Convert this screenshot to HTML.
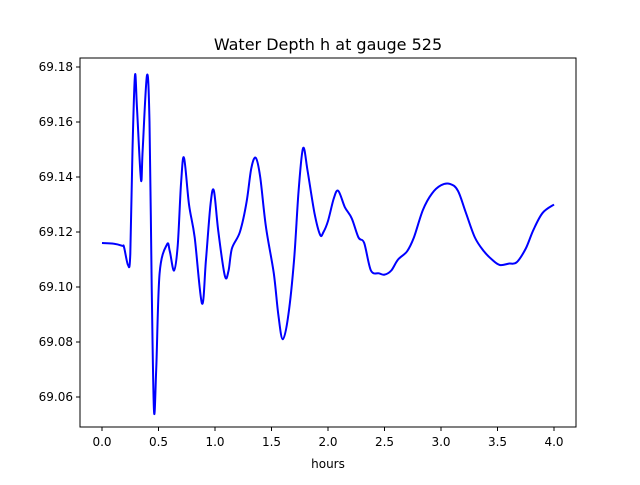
<!DOCTYPE html>
<html><head><meta charset="utf-8"><style>
body{margin:0;background:#fff}
svg text{font-family:"DejaVu Sans","Liberation Sans",sans-serif;fill:#000}
</style></head><body>
<svg id="c" width="640" height="480" xmlns="http://www.w3.org/2000/svg">
<rect x="0" y="0" width="640" height="480" fill="#fff"/>
<text x="328" y="50" font-size="16" text-anchor="middle">Water Depth h at gauge 525</text>
<g id="xt"></g>
<g id="yt"></g>
<path id="line" fill="none" stroke="#0000ff" stroke-width="2" stroke-linejoin="round"/>
<rect x="80" y="58" width="496" height="369" fill="none" stroke="#000" stroke-width="1"/>
<text x="328" y="468" font-size="12" text-anchor="middle">hours</text>
</svg>
<script>
const hours=[0,0.1,0.18,0.195,0.23,0.25,0.27,0.292,0.31,0.345,0.36,0.398,0.42,0.44,0.46,0.48,0.51,0.575,0.6,0.637,0.67,0.7,0.726,0.77,0.82,0.885,0.92,0.96,0.99,1.03,1.088,1.12,1.15,1.22,1.28,1.32,1.36,1.40,1.45,1.52,1.56,1.6,1.65,1.7,1.74,1.78,1.82,1.88,1.93,1.96,2.0,2.05,2.09,2.15,2.21,2.27,2.32,2.38,2.45,2.5,2.56,2.62,2.7,2.76,2.84,2.92,3.0,3.08,3.15,3.22,3.3,3.38,3.45,3.52,3.6,3.67,3.75,3.82,3.9,4.0];
const depth=[69.116,69.1158,69.115,69.1145,69.108,69.112,69.150,69.177,69.165,69.139,69.150,69.177,69.160,69.100,69.055,69.070,69.105,69.1155,69.113,69.106,69.115,69.138,69.147,69.130,69.118,69.094,69.110,69.130,69.135,69.120,69.104,69.106,69.114,69.120,69.131,69.143,69.147,69.140,69.122,69.105,69.090,69.081,69.090,69.110,69.135,69.1505,69.142,69.127,69.119,69.120,69.124,69.132,69.135,69.129,69.125,69.118,69.116,69.106,69.105,69.1045,69.106,69.110,69.113,69.118,69.128,69.134,69.137,69.1375,69.135,69.127,69.118,69.113,69.110,69.108,69.1085,69.109,69.114,69.121,69.127,69.130];
const xTicks=[0,0.5,1,1.5,2,2.5,3,3.5,4];
const xLabels=["0.0","0.5","1.0","1.5","2.0","2.5","3.0","3.5","4.0"];
const yTicks=[69.06,69.08,69.10,69.12,69.14,69.16,69.18];
const yLabels=["69.06","69.08","69.10","69.12","69.14","69.16","69.18"];
const NS="http://www.w3.org/2000/svg";
const sx=v=>102+v*113;
const sy=v=>67+(69.18-v)*2750;
const xt=document.getElementById('xt'),yt=document.getElementById('yt');
xTicks.forEach((t,i)=>{
 const l=document.createElementNS(NS,'line');
 
 
 l.setAttribute('x1',sx(t));l.setAttribute('x2',sx(t));l.setAttribute('y1',427);l.setAttribute('y2',431);l.setAttribute('stroke','#000');
 xt.appendChild(l);
 const s=document.createElementNS(NS,'text');
 
 
 s.setAttribute('x',sx(t));s.setAttribute('y',446);s.setAttribute('font-size','12');s.setAttribute('text-anchor','middle');
 s.textContent=xLabels[i];xt.appendChild(s);
});
yTicks.forEach((t,i)=>{
 const l=document.createElementNS(NS,'line');
 
 
 l.setAttribute('x1',76);l.setAttribute('x2',80);l.setAttribute('y1',sy(t));l.setAttribute('y2',sy(t));l.setAttribute('stroke','#000');
 yt.appendChild(l);
 const s=document.createElementNS(NS,'text');
 
 
 s.setAttribute('x',73);s.setAttribute('y',sy(t)+4);s.setAttribute('font-size','12');s.setAttribute('text-anchor','end');
 s.textContent=yLabels[i];yt.appendChild(s);
});
const P=hours.map((h,i)=>[sx(h),sy(depth[i])]);
let d='M'+P[0][0].toFixed(1)+','+P[0][1].toFixed(1);
for(let i=0;i<P.length-1;i++){
 const p0=P[Math.max(0,i-1)],p1=P[i],p2=P[i+1],p3=P[Math.min(P.length-1,i+2)];
 const c1=[p1[0]+(p2[0]-p0[0])/6,p1[1]+(p2[1]-p0[1])/6];
 const c2=[p2[0]-(p3[0]-p1[0])/6,p2[1]-(p3[1]-p1[1])/6];
 d+=' C'+c1.map(v=>v.toFixed(1))+' '+c2.map(v=>v.toFixed(1))+' '+p2.map(v=>v.toFixed(1));
}
document.getElementById('line').setAttribute('d',d);
</script>
</body></html>
